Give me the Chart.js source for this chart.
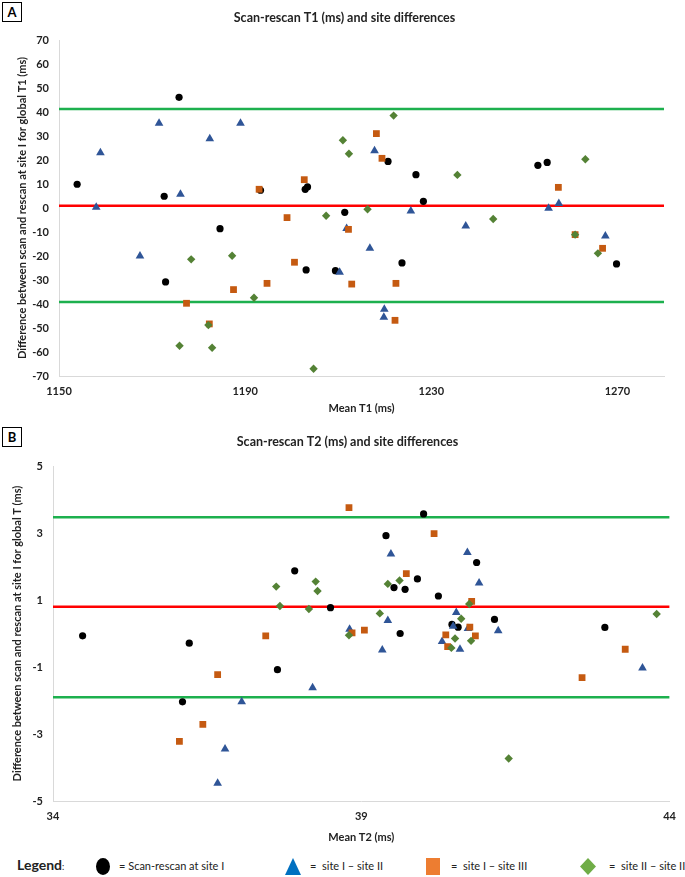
<!DOCTYPE html>
<html>
<head>
<meta charset="utf-8">
<script src="https://cdn.jsdelivr.net/npm/chart.js@4.4.0/dist/chart.umd.min.js"></script>
<style>
  body { margin: 0; background: #fff; width: 685px; height: 877px; position: relative; overflow: hidden; font-family: Lato, sans-serif; }
  #wrapA { position: absolute; left: 0; top: 0; }
  #wrapB { position: absolute; left: 0; top: 424px; }
  .tag { position: absolute; left: 2px; width: 18px; height: 18px; border: 1px solid #000; font: bold 13px Lato, sans-serif; text-align: center; line-height: 18px; background: #fff; }
  #legend { position: absolute; left: 0; top: 856px; width: 685px; height: 20px; font-size: 11px; color: #222; }
  #legend span { position: absolute; top: 3px; white-space: nowrap; }
  #legend .head { left: 17px; top: 0; font-weight: bold; font-size: 14px; }
  .dot { position: absolute; top: 2px; width: 14px; height: 17px; border-radius: 50%; background: #000; }
  .tri { position: absolute; top: 2px; width: 0; height: 0; border-left: 8px solid transparent; border-right: 8px solid transparent; border-bottom: 17px solid #0070C0; }
  .sq { position: absolute; top: 2px; width: 14px; height: 17px; background: #ED7D31; }
  .dia { position: absolute; top: 2px; width: 16px; height: 17px; background: #70AD47; clip-path: polygon(50% 0, 100% 50%, 50% 100%, 0 50%); }
</style>
</head>
<body>
<div id="wrapA"><canvas id="chartA" width="685" height="420"></canvas></div>
<div id="wrapB"><canvas id="chartB" width="685" height="425"></canvas></div>
<div class="tag" style="top:2px">A</div>
<div class="tag" style="top:427px">B</div>
<div id="legend">
  <span class="head">Legend<span style="position:static;font-size:9px;font-weight:normal">:</span></span>
  <div class="dot" style="left:96px"></div><span style="left:119px">= Scan-rescan at site I</span>
  <div class="tri" style="left:285px"></div><span style="left:310px">= &nbsp;site I – site II</span>
  <div class="sq" style="left:426px"></div><span style="left:451px">= &nbsp;site I – site III</span>
  <div class="dia" style="left:580px"></div><span style="left:609px">= &nbsp;site II – site III</span>
</div>
<script>
// ---- Panel A: T1 (ms) ----
const t1Scan = [[1175.8,46.1],[1153.9,9.9],[1172.6,4.9],[1193.3,7.4],[1184.6,-8.6],[1203.4,8.8],[1202.9,7.8],
  [1220.7,19.4],[1226.7,13.9],[1228.3,2.8],[1211.4,-1.8],[1252.9,17.8],[1254.9,19.0],[1269.8,-23.3],
  [1172.9,-30.8],[1203.1,-25.8],[1209.4,-26.1],[1223.7,-22.9]];
const t1SiteI_II = [[1171.5,35.3],[1189.0,35.3],[1182.4,28.9],[1158.9,23.0],[1176.1,5.7],[1158.0,0.3],
  [1217.8,23.9],[1225.6,-1.3],[1211.8,-8.5],[1237.4,-7.5],[1257.4,1.9],[1255.2,-0.1],[1267.4,-11.7],
  [1167.4,-20.0],[1216.8,-16.8],[1210.3,-26.8],[1219.9,-42.2],[1219.8,-45.5]];
const t1SiteI_III = [[1193.0,7.8],[1218.2,31.0],[1219.4,20.7],[1202.7,11.8],[1199.0,-4.0],[1212.2,-8.9],
  [1257.3,8.6],[1260.9,-11.1],[1266.8,-16.8],[1187.5,-34.0],[1194.7,-31.4],[1177.4,-39.7],[1182.3,-48.3],
  [1200.6,-22.6],[1212.9,-31.7],[1222.4,-31.4],[1222.2,-46.8]];
const t1SiteII_III = [[1221.9,38.5],[1211.0,28.2],[1212.3,22.6],[1235.6,13.8],[1216.3,-0.5],[1207.4,-3.2],
  [1263.1,20.3],[1243.3,-4.6],[1260.9,-11.1],[1265.8,-18.9],[1178.4,-21.4],[1187.2,-19.9],[1191.9,-37.4],
  [1182.1,-48.8],[1175.9,-57.4],[1182.9,-58.2],[1204.7,-67.0]];
const t1Mean = 0.9, t1Upper = 41.2, t1Lower = -39.2;
const t1XTicks = [1150, 1190, 1230, 1270];

// ---- Panel B: T2 (ms) ----
const t2Scan = [[34.48,-0.07],[36.21,-0.29],[36.10,-2.04],[37.64,-1.08],[37.92,1.87],[38.50,0.77],[39.40,2.92],
  [40.01,3.57],[40.87,2.12],[39.91,1.63],[39.53,1.37],[39.71,1.32],[40.25,1.12],[41.16,0.42],[40.47,0.27],
  [40.57,0.19],[39.63,0.00],[42.95,0.18]];
const t2SiteI_II = [[38.81,0.13],[39.48,2.37],[40.72,2.42],[40.91,1.51],[40.54,0.63],[39.43,0.39],[40.49,0.22],
  [40.73,0.15],[41.22,0.08],[40.31,-0.24],[40.60,-0.47],[39.34,-0.49],[38.21,-1.62],[37.06,-2.04],
  [36.79,-3.45],[36.67,-4.47],[43.56,-1.03]];
const t2SiteI_III = [[38.80,3.76],[40.18,2.98],[39.73,1.79],[40.79,0.96],[37.45,-0.07],[38.85,0.02],[39.05,0.10],
  [40.76,0.19],[40.37,-0.04],[40.85,-0.07],[40.40,-0.39],[43.28,-0.47],[42.58,-1.32],[36.67,-1.23],
  [36.43,-2.71],[36.05,-3.22]];
const t2SiteII_III = [[37.62,1.40],[38.26,1.55],[38.29,1.27],[37.68,0.82],[38.15,0.73],[38.80,-0.05],[39.43,1.48],
  [39.62,1.58],[40.75,0.88],[39.30,0.60],[40.62,0.44],[40.52,-0.15],[40.78,-0.22],[40.46,-0.43],
  [43.79,0.58],[41.39,-3.73]];
const t2Mean = 0.80, t2Upper = 3.47, t2Lower = -1.90;
const t2XTicks = [34, 39, 44];

const toPts = arr => arr.map(p => ({ x: p[0], y: p[1] }));

function pointSet(data, style, color, radius, order) {
  return { type: 'scatter', data: toPts(data), pointStyle: style, backgroundColor: color,
    borderColor: color, borderWidth: 0, pointRadius: radius, pointHoverRadius: radius, order: order };
}

function hLine(y, xmin, xmax, color) {
  return { type: 'line', data: [{ x: xmin, y: y }, { x: xmax, y: y }], borderColor: color,
    borderWidth: 2.5, pointRadius: 0, fill: false, order: 10 };
}

function buildChart(id, cfg) {
  const tickFont = { family: 'Lato', size: 11, weight: 'bold' };
  const titleFont = { family: 'Lato', size: 11, weight: 'bold' };
  return new Chart(document.getElementById(id), {
    data: {
      datasets: [
        hLine(cfg.upper, cfg.xmin, cfg.xmax, '#1DB04E'),
        hLine(cfg.lower, cfg.xmin, cfg.xmax, '#1DB04E'),
        hLine(cfg.mean, cfg.xmin, cfg.xmax, '#FF0000'),
        pointSet(cfg.scan, 'circle', '#000000', 3.6, 4),
        pointSet(cfg.s12, 'triangle', '#2F5597', 5, 3),
        pointSet(cfg.s13, 'rect', '#C55A11', 4.8, 2),
        pointSet(cfg.s23, 'rectRot', '#548235', 4.2, 1)
      ]
    },
    options: {
      responsive: false,
      animation: false,
      events: [],
      // left padding pushes the chart title towards the plot centre
      layout: { padding: { left: 25, right: cfg.padRight, top: 0, bottom: 0 } },
      plugins: {
        legend: { display: false },
        tooltip: { enabled: false },
        title: {
          display: true, text: cfg.title, color: '#222',
          font: { family: 'Lato', size: 12.5, weight: 'bold' },
          padding: { top: cfg.titleTop, bottom: cfg.titleBottom }
        }
      },
      scales: {
        x: {
          type: 'linear', min: cfg.xmin, max: cfg.xmax,
          afterBuildTicks: s => { s.ticks = cfg.xTicks.map(v => ({ value: v })); },
          afterFit: s => { s.height = cfg.xHeight; },
          ticks: { font: tickFont, color: '#222', padding: 9, maxRotation: 0, autoSkip: false,
            callback: v => String(v) },
          grid: { display: false, drawTicks: false },
          border: { color: '#d9d9d9', width: 1 },
          title: { display: true, text: cfg.xTitle, color: '#222', font: titleFont, padding: { top: 0, bottom: 5 } }
        },
        y: {
          type: 'linear', min: cfg.ymin, max: cfg.ymax,
          ticks: { stepSize: cfg.ystep, font: tickFont, color: '#222', padding: 10, callback: v => String(v) },
          afterFit: s => { s.width = cfg.yWidth - 25; },
          grid: { display: false, drawTicks: false },
          border: { color: '#d9d9d9', width: 1 },
          title: { display: true, text: cfg.yTitle, color: '#222', font: titleFont,
            padding: { top: cfg.yTitlePad - 25, bottom: 0 } }
        }
      }
    }
  });
}

buildChart('chartA', {
  title: 'Scan-rescan T1 (ms) and site differences',
  xTitle: 'Mean T1 (ms)',
  yTitle: 'Difference between scan and rescan at site I for global T1 (ms)',
  scan: t1Scan, s12: t1SiteI_II, s13: t1SiteI_III, s23: t1SiteII_III,
  mean: t1Mean, upper: t1Upper, lower: t1Lower,
  xmin: 1150, xmax: 1280, xTicks: t1XTicks,
  ymin: -70, ymax: 70, ystep: 10,
  padRight: 21, titleTop: 10, titleBottom: 15, xHeight: 44, yWidth: 59, yTitlePad: 16
});

buildChart('chartB', {
  title: 'Scan-rescan T2 (ms) and site differences',
  xTitle: 'Mean T2 (ms)',
  yTitle: 'Difference between scan and rescan at site I for global T (ms)',
  scan: t2Scan, s12: t2SiteI_II, s13: t2SiteI_III, s23: t2SiteII_III,
  mean: t2Mean, upper: t2Upper, lower: t2Lower,
  xmin: 34, xmax: 44, xTicks: t2XTicks,
  ymin: -5, ymax: 5, ystep: 2,
  padRight: 15, titleTop: 10, titleBottom: 17, xHeight: 48, yWidth: 53, yTitlePad: 11
});
</script>
</body>
</html>
